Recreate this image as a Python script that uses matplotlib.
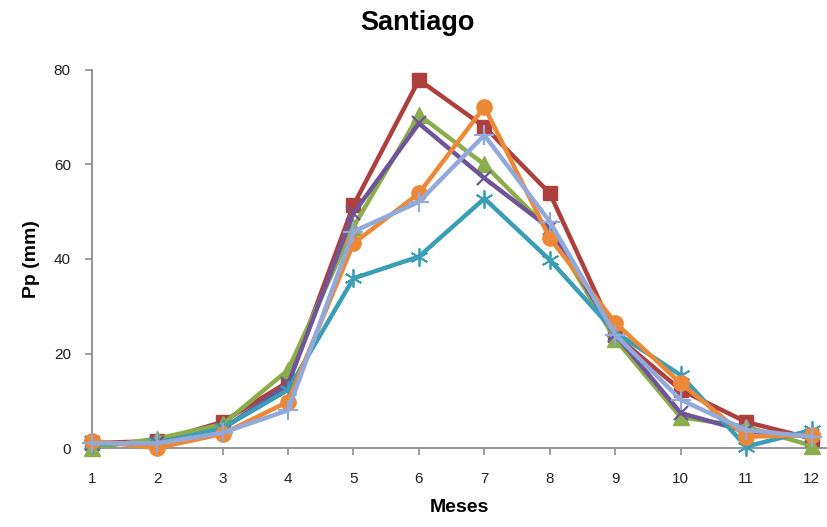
import matplotlib

matplotlib.use("Agg")

import matplotlib.pyplot as plt

plt.rcParams["font.family"] = ["Liberation Sans", "DejaVu Sans"]

months = [1, 2, 3, 4, 5, 6, 7, 8, 9, 10, 11, 12]

serie_rojo = [1.0, 1.5, 5.5, 14.0, 51.4, 77.9, 68.0, 53.9, 23.9, 12.3, 5.5, 2.0]
serie_verde = [0.0, 2.0, 5.0, 16.5, 46.8, 70.5, 60.0, 46.0, 23.0, 6.5, 4.5, 0.5]
serie_morado = [1.0, 1.0, 4.0, 13.5, 49.7, 68.7, 57.1, 46.5, 24.0, 7.4, 3.5, 2.5]
serie_turquesa = [0.8, 1.0, 4.2, 12.3, 35.9, 40.5, 52.8, 39.8, 24.5, 15.4, 0.3, 3.8]
serie_naranja = [1.5, 0.0, 3.0, 9.8, 43.3, 53.9, 72.2, 44.4, 26.5, 13.7, 2.4, 2.7]
serie_celeste = [1.0, 1.0, 3.2, 8.0, 45.8, 52.1, 66.2, 47.9, 24.0, 10.2, 3.8, 2.4]

yticks = [0, 20, 40, 60, 80]

fig = plt.figure(figsize=(8.28, 5.27), dpi=100)
ax = fig.add_axes([91.7 / 828, 79 / 527, 1 - 91.7 / 828, 378 / 527])

styles = [
    (serie_rojo, "#AD403D", "s", 10, 1),
    (serie_verde, "#8BAD4C", "^", 11, 1),
    (serie_morado, "#6F5598", "x", 10, 1.6),
    (serie_turquesa, "#3A9EB6", (6, 2, 0), 13, 1.3),
    (serie_naranja, "#EC8936", "o", 11, 1),
    (serie_celeste, "#92AADB", "+", 14, 1.6),
]
for values, color, marker, ms, mew in styles:
    ax.plot(months, values, color=color, linewidth=3.2, marker=marker,
            markersize=ms, markeredgewidth=mew, markeredgecolor=color,
            markerfacecolor=color, clip_on=False, zorder=3)

ax.set_xlim(1, 12.25)
ax.set_ylim(0, 80)
ax.set_xticks(months)
ax.set_yticks(yticks)

for side in ("top", "right"):
    ax.spines[side].set_visible(False)
for side in ("left", "bottom"):
    ax.spines[side].set_color("#8C8C8C")
    ax.spines[side].set_linewidth(1.3)

ax.tick_params(axis="both", direction="out", length=5, width=1.2,
               color="#8C8C8C", labelsize=11, labelcolor="#222222")
ax.tick_params(axis="y", pad=10)
ax.tick_params(axis="x", pad=12)

ax.set_xlabel("Meses", fontsize=14, fontweight="bold", labelpad=10)
ax.set_ylabel("Pp (mm)", fontsize=14, fontweight="bold", labelpad=10)

fig.text(417 / 828, 1 - 23 / 527, "Santiago", ha="center", va="center",
         fontsize=19.5, fontweight="bold")

fig.savefig("out.png", dpi=100)
plt.close(fig)
